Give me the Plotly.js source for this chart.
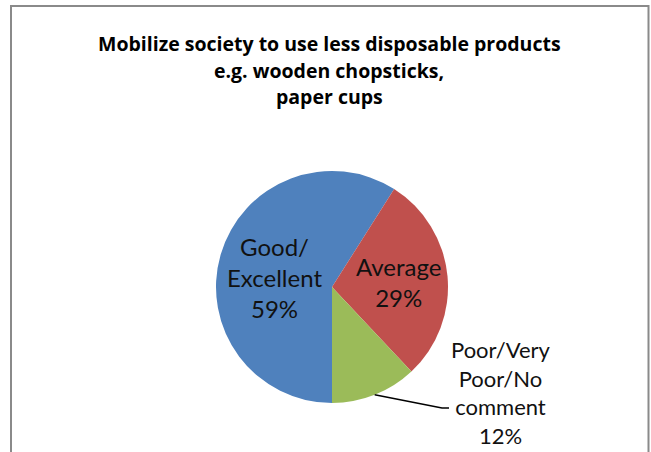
<!DOCTYPE html>
<html>
<head>
<meta charset="utf-8">
<script src="https://cdn.plot.ly/plotly-3.0.1.min.js"></script>
<style>html,body{margin:0;padding:0;background:#fff;}#chart{width:651px;height:452px;}</style>
</head>
<body>
<div id="chart"></div>
<script>
var titleLines = ["Mobilize society to use less disposable products", "e.g. wooden chopsticks,", "paper cups"];
var categories = ["Good/ Excellent", "Average", "Poor/Very Poor/No comment"];
var values = [59, 29, 12];
var sliceText = ["Good/<br>Excellent", "Average", "Poor/Very<br>Poor/No<br>comment"];
var colors = ["#4F81BD", "#C0504D", "#9BBB59"];

var W = 651, H = 452;
var cx = 332, cy = 287, r = 116;
var dom = {x: [(cx - r) / W, (cx + r) / W], y: [(H - cy - r) / H, (H - cy + r) / H]};
var FONT = "Lato, 'Liberation Sans', sans-serif";
var TFONT = "'Open Sans', Lato, sans-serif";

var total = values.reduce(function (a, b) { return a + b; }, 0);
var rot = 180;
var start = values[0] + values[1];
var midDeg = rot + (start + values[2] / 2) / total * 360;
var rad = midDeg * Math.PI / 180;
var tipX = cx + r * Math.sin(rad), tipY = cy - r * Math.cos(rad);
function px(x) { return x / W; }
function py(y) { return 1 - y / H; }
function pct(v) { return Math.round(v / total * 100) + '%'; }

var annotations = titleLines.map(function (t, i) {
  return {text: '<b>' + t + '</b>', xref: 'paper', yref: 'paper', x: px(329), y: py(43.5 + i * 26.5),
    xanchor: 'center', yanchor: 'middle', showarrow: false, font: {family: TFONT, size: 19.5, color: '#000'}};
});
// slice labels
var labelPos = [[274, 277, 24], [398, 282, 24], [501, 392, 22]];
values.forEach(function (v, i) {
  annotations.push({
    text: sliceText[i] + '<br>' + pct(v),
    xref: 'paper', yref: 'paper', x: px(labelPos[i][0]), y: py(labelPos[i][1]),
    xanchor: 'center', yanchor: 'middle', showarrow: false, align: 'center',
    font: {family: FONT, size: labelPos[i][2], color: '#111'}
  });
});

var elbowX = 442, elbowY = 408, endX = 449;
var leader = 'M ' + px(tipX) + ' ' + py(tipY) + ' L ' + px(elbowX) + ' ' + py(elbowY) + ' L ' + px(endX) + ' ' + py(elbowY);

var data = [{
  type: 'pie',
  labels: categories,
  values: values,
  sort: false,
  direction: 'clockwise',
  rotation: rot,
  domain: dom,
  marker: {colors: colors, line: {width: 0}},
  textinfo: 'none',
  hoverinfo: 'none',
  showlegend: false
}];

var layout = {
  width: W, height: H,
  margin: {l: 0, r: 0, t: 0, b: 0},
  paper_bgcolor: '#fff',
  showlegend: false,
  annotations: annotations,
  shapes: [
    {type: 'rect', xref: 'paper', yref: 'paper', x0: px(11), x1: px(648.5), y0: -0.1, y1: py(6),
      line: {color: '#8a8a8a', width: 2}, fillcolor: 'rgba(0,0,0,0)', layer: 'below'},
    {type: 'path', xref: 'paper', yref: 'paper', path: leader, line: {color: '#000', width: 1.5}}
  ]
};
Plotly.newPlot('chart', data, layout, {staticPlot: true});
</script>
</body>
</html>
